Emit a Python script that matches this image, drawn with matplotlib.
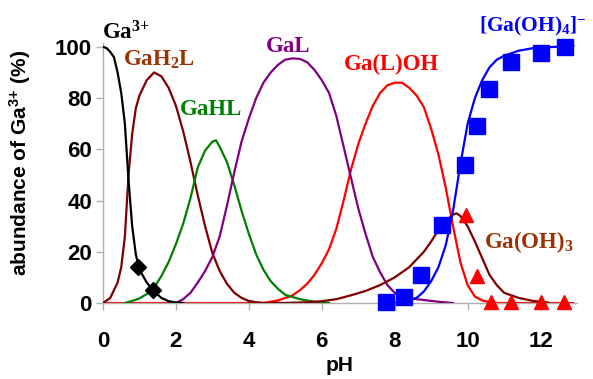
import numpy as np
import matplotlib
matplotlib.use('Agg')
import matplotlib.pyplot as plt

plt.rcParams['mathtext.default'] = 'regular'

#species curves (pH, % of Ga)
ph_ga = [0, 0.1, 0.2, 0.3, 0.4, 0.5, 0.6, 0.7, 0.8, 0.9, 1.0, 1.2, 1.4, 1.6, 1.8, 2.0, 2.2]
ga = [100, 99.5, 98, 96, 90, 82, 70, 48, 30, 19, 13, 8, 4.5, 2, 0.7, 0.2, 0]

ph_gah2l = [0, 0.2, 0.3, 0.4, 0.5, 0.6, 0.7, 0.8, 0.9, 1.0, 1.2, 1.4, 1.6, 1.8, 2.0,
            2.2, 2.4, 2.6, 2.8, 3.0, 3.2, 3.4, 3.6, 3.8, 4.0, 4.2, 4.4]
gah2l = [0, 2, 5, 8, 14, 26, 50, 66, 76, 81, 87, 90, 88.5, 84, 77,
         67, 55, 42, 30, 19.5, 12.5, 7.5, 4, 2, 0.8, 0.3, 0]

ph_gahl = [0.6, 0.8, 1.0, 1.2, 1.4, 1.6, 1.8, 2.0, 2.2, 2.4, 2.6, 2.8, 3.0, 3.1, 3.2,
           3.4, 3.6, 3.8, 4.0, 4.2, 4.4, 4.6, 4.8, 5.0, 5.4, 5.8, 6.2]
gahl = [0, 0.8, 1.8, 3.5, 6, 10.5, 16, 23, 31, 41, 53, 59.5, 63, 63.5, 61,
        55, 46, 36, 27, 19, 13, 8.5, 5.5, 3.2, 1.5, 0.5, 0]

ph_gal = [2.0, 2.2, 2.4, 2.6, 2.8, 3.0, 3.2, 3.4, 3.6, 3.8, 4.0, 4.2, 4.4, 4.6, 4.8,
          5.0, 5.2, 5.4, 5.6, 5.8, 6.0, 6.2, 6.4, 6.6, 6.8, 7.0, 7.2, 7.4, 7.6, 7.8,
          8.0, 8.2, 8.6, 9.2, 9.6]
gal = [0, 1.5, 4, 8, 12.5, 18, 26, 38, 51, 63, 72, 80, 86, 90, 93,
       95, 95.5, 95.3, 94, 91, 87, 82, 73, 61, 49, 37, 27, 18, 12, 7,
       4, 2.5, 1.5, 0.5, 0]

ph_galoh = [0, 4.4, 4.8, 5.0, 5.2, 5.4, 5.6, 5.8, 6.0, 6.2, 6.4, 6.6, 6.8, 7.0, 7.2,
            7.4, 7.6, 7.8, 8.0, 8.2, 8.4, 8.6, 8.8, 9.0, 9.2, 9.4, 9.6, 9.8, 10.0,
            10.2, 10.4, 10.6, 10.8, 12.9]
galoh = [0, 0, 1, 2, 3, 5, 7.5, 11, 15.5, 21, 29, 40, 52, 62, 70,
         77, 82, 85, 86, 86, 84, 81, 76.5, 68, 58, 45, 30, 16, 7,
         2.5, 1, 0.3, 0, 0]

ph_gaoh3 = [4.0, 5.0, 5.6, 6.0, 6.4, 6.8, 7.2, 7.6, 8.0, 8.4, 8.8, 9.0, 9.2, 9.4, 9.6,
            9.7, 9.8, 10.0, 10.2, 10.4, 10.6, 10.8, 11.0, 11.4, 11.8, 12.2]
gaoh3 = [0, 0, 0.3, 0.7, 1.5, 3, 4.7, 7, 10, 14, 20, 24, 28.5, 32, 34.5,
         35, 34, 30, 24, 17.5, 11, 7, 4, 2, 0.8, 0.2]

ph_gaoh4 = [8.0, 8.4, 8.6, 8.8, 9.0, 9.2, 9.4, 9.6, 9.8, 10.0, 10.2, 10.4, 10.6, 10.8,
            11.0, 11.4, 11.8, 12.4, 12.9]
gaoh4 = [0, 1, 2, 4.5, 8.5, 14, 22.5, 36, 54, 70, 80, 87, 92, 95,
         96.5, 98.5, 99.5, 100, 100.5]

#experimental points
ph_ga_exp = [0.96, 1.37]
ga_exp = [14, 5]
ph_gaoh4_exp = [7.76, 8.25, 8.72, 9.3, 9.94, 10.25, 10.6, 11.2, 12.0, 12.66]
gaoh4_exp = [0.5, 2.5, 11, 30.5, 54, 69, 83.5, 94, 97.6, 100]
ph_tri_exp = [9.95, 10.25, 10.65, 11.2, 12.0, 12.65]
tri_exp = [34.5, 10.5, 0.5, 0.5, 0.5, 0.5]

fig = plt.figure(figsize=(5.93, 3.79), dpi=100)
ax = fig.add_axes([0.1737, 0.2005, 0.7993, 0.686])

lw = 1.6
ax.plot(ph_galoh, galoh, color='#ff0000', lw=lw, zorder=2)
ax.plot(ph_gah2l, gah2l, color='#800000', lw=lw, zorder=3)
ax.plot(ph_gahl, gahl, color='#008000', lw=lw, zorder=3)
ax.plot(ph_gal, gal, color='#800080', lw=lw, zorder=3)
ax.plot(ph_gaoh3, gaoh3, color='#800000', lw=lw, zorder=3)
ax.plot(ph_gaoh4, gaoh4, color='#0000ff', lw=lw, zorder=3)
ax.plot(ph_ga, ga, color='black', lw=lw, zorder=4)

ax.plot(ph_ga_exp, ga_exp, 'D', color='black', ms=8, zorder=5, clip_on=False)
ax.plot(ph_gaoh4_exp, gaoh4_exp, 's', color='#0000ff', ms=11, zorder=5, clip_on=False)
ax.plot(ph_tri_exp, tri_exp, '^', color='#ff0000', ms=10, zorder=5, clip_on=False)

#species labels
lab = dict(family='Liberation Serif', weight='bold', fontsize=16.5, math_fontfamily='stix')
ax.text(-0.03, 102.7, 'Ga$^{3{+}}$', color='black', clip_on=False, **lab)
ax.text(0.55, 92.6, 'GaH$_2$L', color='#993300', **lab)
ax.text(2.1, 73.4, 'GaHL', color='#008000', **lab)
ax.text(4.48, 98, 'GaL', color='#800080', **lab)
ax.text(6.61, 91, 'Ga(L)OH', color='#ff0000', **lab)
ax.text(10.3, 106, '[Ga(OH)$_4$]$^{-}$', color='#0000ff', clip_on=False,
        **dict(lab, fontsize=15.5))
ax.text(10.44, 21.5, 'Ga(OH)$_3$', color='#993300', **lab)

ax.set_xlim(0, 13)
ax.set_ylim(0, 101.5)
ax.set_xticks([0, 2, 4, 6, 8, 10, 12])
ax.set_yticks([0, 20, 40, 60, 80, 100])

for s in ['top', 'right']:
    ax.spines[s].set_visible(False)
for s in ['left', 'bottom']:
    ax.spines[s].set_color('#b0b0b0')
    ax.spines[s].set_linewidth(1)

tick_font = dict(family='Liberation Sans', weight='bold', size=16)
ax.tick_params(axis='both', colors='#b0b0b0', length=5, width=1, labelcolor='black')
ax.tick_params(axis='x', pad=15)
ax.tick_params(axis='y', pad=3)
for t in ax.get_xticklabels() + ax.get_yticklabels():
    t.set_fontproperties(matplotlib.font_manager.FontProperties(**tick_font))

ax.set_xlabel('pH', family='Liberation Sans', weight='bold', fontsize=15, labelpad=3)
ax.set_ylabel('abundance of Ga$^{3{+}}$ (%)', family='Liberation Sans', weight='bold', fontsize=15)
ax.yaxis.set_label_coords(-0.148, 0.54)

plt.savefig('out.png', dpi=100)
